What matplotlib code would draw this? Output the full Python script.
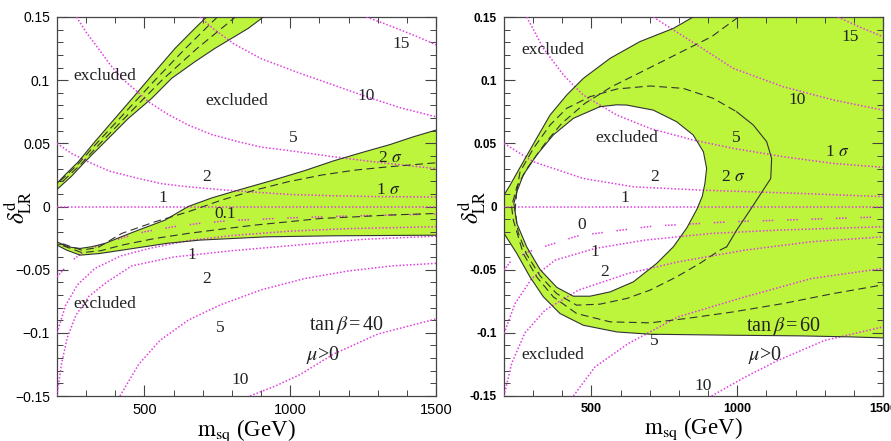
import matplotlib
matplotlib.use("Agg")
import matplotlib.pyplot as plt
import numpy as np

plt.rcParams["mathtext.fontset"] = "stix"

XMIN, XMAX = 200, 1500
YMIN, YMAX = -0.15, 0.15
X_TICKS = [500, 1000, 1500]
Y_TICKS = [-0.15, -0.1, -0.05, 0, 0.05, 0.1, 0.15]
Y_LABELS_LEFT = ["\u22120.15", "\u22120.1", "\u22120.05", "0", "0.05", "0.1", "0.15"]
Y_LABELS_RIGHT = ["-0.15", "-0.1", "-0.05", "0", "0.05", "0.1", "0.15"]

GREEN = "#bdf53c"
MAGENTA = "#e23ce2"

# ---------------- tan(beta) = 40 panel ----------------
l_top_edge_a = [(200, 0.0183), (227, 0.0249), (273, 0.0354), (330, 0.0513), (399, 0.0698),
                (468, 0.0882), (536, 0.1067), (605, 0.1252), (673, 0.141), (713, 0.15)]
l_top_edge_b = [(200, 0.0135), (250, 0.024), (296, 0.0354), (365, 0.0513), (445, 0.0698),
                (525, 0.0856), (593, 0.1014), (673, 0.1146), (742, 0.1252), (799, 0.1331),
                (856, 0.141), (908, 0.15)]
l_top_dash_1 = [(210, 0.02), (270, 0.033), (336, 0.05), (436, 0.075), (536, 0.1), (640, 0.125), (750, 0.15)]
l_top_dash_2 = [(220, 0.02), (280, 0.033), (348, 0.05), (453, 0.075), (560, 0.1), (680, 0.125), (812, 0.15)]

l_low_upper = [(200, -0.028), (239, -0.032), (279, -0.0332), (320, -0.0318), (365, -0.0292),
               (420, -0.024), (479, -0.0187), (570, -0.0108), (650, 0.0), (731, 0.0068),
               (822, 0.013), (936, 0.0205), (1051, 0.0285), (1147, 0.036), (1250, 0.043),
               (1342, 0.049), (1420, 0.055), (1500, 0.0605)]
l_low_lower = [(200, -0.0306), (233, -0.0345), (279, -0.0385), (347, -0.0372), (462, -0.0332),
               (576, -0.0292), (690, -0.0266), (919, -0.024), (1147, -0.0232), (1500, -0.0227)]
l_low_dash_1 = [(220, -0.0295), (250, -0.032), (285, -0.0345), (340, -0.0325), (422, -0.0213),
                (536, -0.0121), (650, -0.0042), (765, 0.0051), (879, 0.013), (993, 0.0196),
                (1108, 0.0249), (1222, 0.0288), (1336, 0.0314), (1500, 0.0346)]
l_low_dash_2 = [(220, -0.031), (250, -0.0335), (285, -0.0365), (350, -0.035), (422, -0.0306),
                (536, -0.0253), (650, -0.0213), (765, -0.0179), (879, -0.0147), (993, -0.0121),
                (1108, -0.0094), (1222, -0.0082), (1336, -0.0068), (1500, -0.0055)]

l_c15 = [(1262, 0.15), (1320, 0.145), (1376, 0.14), (1440, 0.134), (1500, 0.128)]
l_c10 = [(690, 0.15), (740, 0.14), (805, 0.129), (900, 0.117), (1034, 0.1054), (1150, 0.096),
         (1262, 0.0869), (1380, 0.078), (1500, 0.071)]
l_c5 = [(267, 0.15), (300, 0.138), (342, 0.125), (380, 0.113), (422, 0.1014), (470, 0.092),
        (513, 0.083), (580, 0.073), (650, 0.0645), (730, 0.057), (822, 0.0513), (900, 0.047),
        (982, 0.0447), (1147, 0.0394), (1300, 0.035), (1500, 0.030)]
l_c2 = [(200, 0.05), (250, 0.042), (307, 0.0354), (380, 0.028), (479, 0.0222), (560, 0.018),
        (650, 0.0156), (804, 0.0125), (1000, 0.0095), (1147, 0.0085), (1300, 0.0078), (1500, 0.0075)]
l_c1 = [(200, 0.0), (600, 0.0), (1000, 0.0), (1500, 0.0)]
l_c01 = [(200, -0.0557), (245, -0.044), (290, -0.036), (347, -0.0306), (420, -0.025), (500, -0.02),
         (600, -0.016), (700, -0.013), (800, -0.011), (1000, -0.009), (1200, -0.0075), (1500, -0.006)]
l_c1_low = [(200, -0.1), (230, -0.078), (270, -0.062), (330, -0.049), (420, -0.039), (520, -0.033),
            (650, -0.027), (800, -0.023), (1000, -0.0195), (1200, -0.0175), (1500, -0.016)]
l_c2_low = [(200, -0.15), (215, -0.125), (235, -0.104), (265, -0.086), (310, -0.071), (370, -0.06),
            (456, -0.047), (600, -0.04), (800, -0.035), (1000, -0.031), (1250, -0.026), (1500, -0.0235)]
l_c5_low = [(416, -0.15), (480, -0.125), (553, -0.106), (650, -0.09), (759, -0.078), (900, -0.066),
            (1050, -0.057), (1200, -0.051), (1350, -0.047), (1500, -0.045)]
l_c10_low = [(862, -0.15), (950, -0.142), (1034, -0.133), (1147, -0.117), (1300, -0.101), (1500, -0.089)]

l_labels = [(1382, 0.129, "15"), (1262, 0.0876, "10"), (1010, 0.054, "5"), (713, 0.0235, "2"),
            (564, 0.0066, "1"), (776, -0.006, "0.1"), (662, -0.0385, "1"), (713, -0.057, "2"),
            (759, -0.096, "5"), (828, -0.1375, "10"),
            (1342, 0.038, r"2 $\sigma$"), (1336, 0.013, r"1 $\sigma$"),
            (365, 0.1033, "excluded"), (816, 0.0837, "excluded"), (365, -0.0768, "excluded")]
l_tag = [(1194, -0.094, r"tan$\,\beta\,$=$\,$40"), (1113, -0.1178, r"$\mu$>0")]

# ---------------- tan(beta) = 60 panel ----------------
r_outer = [(849, 0.15), (781, 0.141), (666, 0.1305), (564, 0.1173), (472, 0.1014), (415, 0.0882),
           (358, 0.0724), (312, 0.054), (266, 0.0354), (221, 0.017), (200, 0.009), (200, -0.0213),
           (244, -0.0372), (289, -0.0557), (335, -0.0715), (392, -0.0847), (472, -0.094),
           (587, -0.0993), (701, -0.1011), (987, -0.1019), (1215, -0.1024), (1387, -0.1032),
           (1500, -0.104)]
r_hole = [(529, 0.079), (587, 0.0805), (621, 0.0803), (712, 0.0763), (792, 0.0671), (849, 0.0566),
          (884, 0.0433), (895, 0.0302), (889, 0.018), (880, 0.008), (862, -0.002), (827, -0.017),
          (781, -0.0319), (724, -0.045), (644, -0.0596), (564, -0.0676), (495, -0.071), (438, -0.071),
          (381, -0.064), (324, -0.05), (278, -0.032), (244, -0.0134), (234, 0.0024), (244, 0.0116),
          (266, 0.0249), (312, 0.0407), (369, 0.0566), (438, 0.0698), (529, 0.079)]
r_dash_outer = [(1004, 0.15), (912, 0.1344), (798, 0.1212), (684, 0.108), (569, 0.0948), (478, 0.0817),
                (398, 0.0658), (341, 0.05), (283, 0.0314), (244, 0.0156), (226, 0.0), (232, -0.0108),
                (266, -0.0372), (312, -0.0557), (369, -0.0715), (449, -0.0847), (564, -0.0913),
                (701, -0.0921), (827, -0.0886), (987, -0.0834), (1158, -0.0768), (1330, -0.0689),
                (1500, -0.062)]
r_arc_dash_top = [(244, 0.012), (255, 0.0275), (301, 0.046), (358, 0.0645), (415, 0.0777), (495, 0.0869),
                  (587, 0.093), (701, 0.0954), (815, 0.0935), (918, 0.0856), (998, 0.075)]
r_arc_solid = [(998, 0.075), (1055, 0.0645), (1101, 0.0513), (1118, 0.038), (1115, 0.0222),
               (1089, 0.013), (1044, -0.0029), (998, -0.0187), (964, -0.0319)]
r_arc_dash_low = [(964, -0.0319), (941, -0.0345), (872, -0.045), (792, -0.0557), (701, -0.0662),
                  (621, -0.0728), (529, -0.0773), (449, -0.0781), (381, -0.069), (324, -0.055),
                  (278, -0.038), (249, -0.021), (238, -0.003), (244, 0.012)]

r_c15 = [(1345, 0.15), (1420, 0.142), (1500, 0.1344)]
r_c10 = [(712, 0.15), (827, 0.133), (987, 0.1093), (1158, 0.0948), (1330, 0.0843), (1500, 0.0763)]
r_c5 = [(278, 0.15), (335, 0.1252), (404, 0.104), (472, 0.0882), (587, 0.0724), (701, 0.0618),
        (849, 0.0526), (987, 0.046), (1158, 0.0394), (1330, 0.0341), (1500, 0.031)]
r_c2 = [(200, 0.05), (301, 0.0354), (472, 0.0222), (644, 0.0156), (872, 0.013), (1200, 0.0105), (1500, 0.0078)]
r_c1 = [(200, 0.0), (700, 0.0), (1100, 0.0), (1500, 0.0)]
r_c0 = [(200, -0.0504), (226, -0.0425), (283, -0.0359), (335, -0.0319), (392, -0.0279), (449, -0.0234),
        (558, -0.02), (712, -0.0155), (976, -0.0121), (1500, -0.0082)]
r_c1_low = [(200, -0.1005), (238, -0.0768), (295, -0.057), (375, -0.0425), (512, -0.0332),
            (684, -0.0266), (912, -0.0213), (1141, -0.0187), (1500, -0.016)]
r_c2_low = [(200, -0.15), (226, -0.1243), (272, -0.1), (341, -0.082), (455, -0.0662), (626, -0.053),
            (798, -0.0438), (1027, -0.0345), (1255, -0.0279), (1500, -0.024)]
r_c5_low = [(438, -0.15), (512, -0.127), (626, -0.1085), (798, -0.0873), (1027, -0.0715),
            (1255, -0.057), (1500, -0.049)]
r_c10_low = [(912, -0.15), (1027, -0.135), (1141, -0.1217), (1300, -0.106), (1500, -0.0953)]

r_labels = [(1387, 0.1344, "15"), (1204, 0.0843, "10"), (998, 0.054, "5"), (1341, 0.0433, r"1 $\sigma$"),
            (987, 0.0235, r"2 $\sigma$"), (716, 0.0235, "2"), (615, 0.0064, "1"), (466, -0.0147, "0"),
            (512, -0.0364, "1"), (546, -0.0517, "2"), (714, -0.1064, "5"), (884, -0.142, "10"),
            (369, 0.1239, "excluded"), (621, 0.054, "excluded"), (369, -0.1172, "excluded")]
r_tag = [(1158, -0.0946, r"tan$\,\beta\,$=$\,$60"), (1095, -0.1176, r"$\mu$>0")]


def xy(points):
    arr = np.array(points, dtype=float)
    return arr[:, 0], arr[:, 1]


def fill_band(ax, edge_a, edge_b):
    xa, ya = xy(edge_a)
    xb, yb = xy(edge_b)
    ax.fill(np.concatenate([xa, xb[::-1]]), np.concatenate([ya, yb[::-1]]),
            color=GREEN, lw=0, zorder=1)
    ax.plot(xa, ya, color="#333333", lw=0.8, zorder=4)
    ax.plot(xb, yb, color="#333333", lw=0.8, zorder=4)


def solid(ax, pts):
    ax.plot(*xy(pts), color="#333333", lw=0.8, zorder=4)


def dashed(ax, pts):
    ax.plot(*xy(pts), color="#333333", lw=0.8, ls=(0, (7, 4)), zorder=4)


def dotted(ax, pts, sparse=False):
    ls = (0, (1, 1, 1, 1, 1, 1, 1, 9)) if sparse else (0, (1, 1.3))
    ax.plot(*xy(pts), color=MAGENTA, lw=1.1, ls=ls, zorder=3)


def style_axes(ax, ylabels, bold):
    ax.set_xlim(XMIN, XMAX)
    ax.set_ylim(YMIN, YMAX)
    ax.set_xticks(X_TICKS)
    ax.set_xticks(np.arange(300, 1500, 100), minor=True)
    ax.set_yticks(Y_TICKS)
    ax.set_yticks(np.arange(-14, 15) / 100, minor=True)
    weight = "bold" if bold else "normal"
    size = 8.5 if bold else 10
    ax.set_yticklabels(ylabels, fontfamily="Liberation Sans", fontsize=size, fontweight=weight)
    ax.set_xticklabels([str(t) for t in X_TICKS], fontfamily="Liberation Sans",
                       fontsize=size + 0.5, fontweight=weight)
    ax.tick_params(which="both", direction="in", top=True, right=True, color="#444444")
    ax.tick_params(which="major", length=8, width=0.8, pad=5)
    ax.tick_params(which="minor", length=4.5, width=0.7)
    for s in ax.spines.values():
        s.set_color("#444444")
        s.set_linewidth(0.9)
    ax.set_xlabel(r"$\mathrm{m_{sq}}$ (GeV)", fontfamily="Liberation Serif", fontsize=16.5, labelpad=0)


def put_labels(ax, labels, tags):
    for x, y, t in labels:
        ax.text(x, y, t, ha="center", va="center", fontsize=12.5,
                fontfamily="Liberation Serif", color="#222222", zorder=5)
    for x, y, t in tags:
        ax.text(x, y, t, ha="center", va="center", fontsize=14.5,
                fontfamily="Liberation Serif", color="#222222", zorder=5)


fig = plt.figure(figsize=(8.91, 4.41), dpi=100)
ax1 = fig.add_axes([57 / 891, 45 / 441, 379 / 891, 379 / 441])
ax2 = fig.add_axes([504 / 891, 45 / 441, 379 / 891, 379 / 441])

# left panel
fill_band(ax1, l_top_edge_a, l_top_edge_b)
fill_band(ax1, l_low_upper, l_low_lower)
dashed(ax1, l_top_dash_1)
dashed(ax1, l_top_dash_2)
dashed(ax1, l_low_dash_1)
dashed(ax1, l_low_dash_2)
for c in [l_c15, l_c10, l_c5, l_c2, l_c1, l_c1_low, l_c2_low, l_c5_low, l_c10_low]:
    dotted(ax1, c)
dotted(ax1, l_c01, sparse=True)
put_labels(ax1, l_labels, l_tag)
style_axes(ax1, Y_LABELS_LEFT, bold=False)

# right panel
ox, oy = xy(r_outer)
ax2.fill(np.concatenate([ox, [XMAX, XMAX]]), np.concatenate([oy, [oy[-1], YMAX]]),
         color=GREEN, lw=0, zorder=1)
hx, hy = xy(r_hole)
ax2.fill(hx, hy, color="white", lw=0, zorder=1.5)
solid(ax2, r_outer)
solid(ax2, r_hole)
dashed(ax2, r_dash_outer)
dashed(ax2, r_arc_dash_top)
solid(ax2, r_arc_solid)
dashed(ax2, r_arc_dash_low)
for c in [r_c15, r_c10, r_c5, r_c2, r_c1, r_c1_low, r_c2_low, r_c5_low, r_c10_low]:
    dotted(ax2, c)
dotted(ax2, r_c0, sparse=True)
put_labels(ax2, r_labels, r_tag)
style_axes(ax2, Y_LABELS_RIGHT, bold=True)

for fx in [18, 472]:
    fig.text(fx / 891, 1 - 207 / 441, r"$\delta^{\rm d}_{\rm LR}$", rotation=90,
             ha="center", va="center", fontsize=17)

fig.savefig("out.png", dpi=100)
